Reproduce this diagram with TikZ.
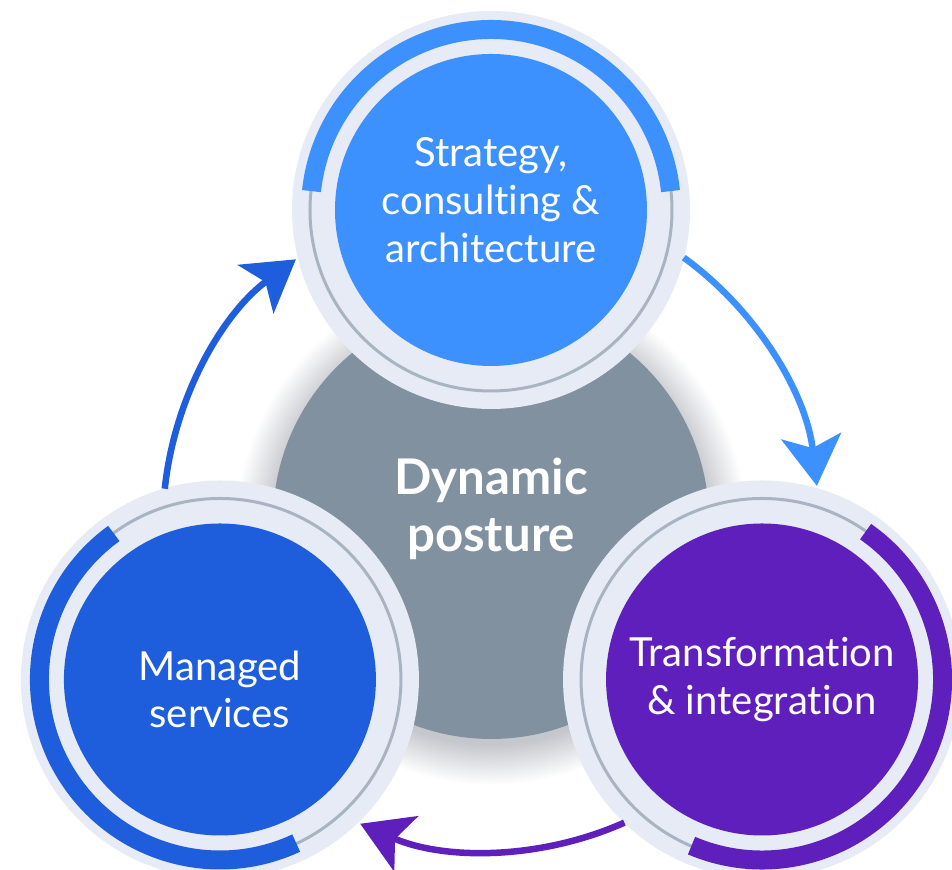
\documentclass[tikz,border=0pt]{standalone}
\usepackage{fontspec}
\setmainfont{Lato}[Ligatures={NoCommon,NoRequired,NoContextual}]
\usetikzlibrary{arrows.meta,calc}
\definecolor{sc_blue}{RGB}{61,145,255}
\definecolor{ms_blue}{RGB}{30,94,220}
\definecolor{ti_purple}{RGB}{94,31,189}
\definecolor{core_grey}{RGB}{129,145,160}
\definecolor{ring_bg}{RGB}{230,235,245}
\definecolor{ring_line}{RGB}{169,180,194}
\definecolor{shade_grey}{RGB}{196,199,204}
\pgfdeclareradialshading{coreshadow}{\pgfpoint{0bp}{0bp}}{color(0bp)=(shade_grey);
  color(21bp)=(shade_grey); color(25bp)=(white); color(50bp)=(white)}
\tikzstyle{hub}=[inner sep=0pt,text=white,align=center,
  font=\bfseries\fontsize{14}{16.4}\selectfont]
\tikzstyle{pn}=[inner sep=0pt,text=white,align=center,
  font=\fontsize{11.4}{13.6}\selectfont]
\tikzstyle{halo}=[fill=ring_bg]
\tikzstyle{track}=[draw=ring_line,line width=0.03cm]
\tikzstyle{band}=[line width=0.19cm]
\tikzstyle{flow}=[line width=0.065cm,-{Stealth[length=5mm,width=6mm,inset=1.2mm]}]

\begin{document}
\begin{tikzpicture}
    \fill[white] (-4.91,-3.47) rectangle (4.61,5.23);
    \clip (-4.91,-3.47) rectangle (4.61,5.23);
    \coordinate (sc) at (90:3.13);
    \coordinate (ti) at (330:3.13);
    \coordinate (ms) at (210:3.13);
    % core with soft shadow
    \shade[shading=coreshadow] (0,-0.06) circle (2.56);
    \fill[core_grey] (0,0.02) circle (2.18);
    \node [style=hub] (core) at (0, 0.14) {Dynamic\\posture};
    % rings
    \fill[halo] (sc) circle (1.99);
    \draw[track] (sc) circle (1.81);
    \draw[band, sc_blue] ($(sc)+(6:1.805)$) arc[start angle=6, end angle=174, radius=1.805];
    \fill[sc_blue] (sc) circle (1.56);
    \node [style=pn] (strategy) at ($(sc)+(0,0.1)$) {Strategy,\\consulting \&\\architecture};
    \fill[halo] (ti) circle (1.99);
    \draw[track] (ti) circle (1.81);
    \draw[band, ti_purple] ($(ti)+(-113:1.805)$) arc[start angle=-113, end angle=55, radius=1.805];
    \fill[ti_purple] (ti) circle (1.56);
    \node [style=pn] (transform) at (ti) {Transformation\\\& integration};
    \fill[halo] (ms) circle (1.99);
    \draw[track] (ms) circle (1.81);
    \draw[band, ms_blue] ($(ms)+(126:1.805)$) arc[start angle=126, end angle=295, radius=1.805];
    \fill[ms_blue] (ms) circle (1.56);
    \node [style=pn] (managed) at ($(ms)+(0,-0.1)$) {Managed\\services};
    % cycle arrows
    \coordinate (f1) at (54:3.28);
    \coordinate (f2) at (-66:3.28);
    \coordinate (f3) at (174:3.28);
    \draw[flow, sc_blue] (f1) arc[start angle=54, end angle=6.5, radius=3.28];
    \draw[flow, ti_purple] (f2) arc[start angle=-66, end angle=-113.5, radius=3.28];
    \draw[flow, ms_blue] (f3) arc[start angle=174, end angle=126.5, radius=3.28];
\end{tikzpicture}
\end{document}
